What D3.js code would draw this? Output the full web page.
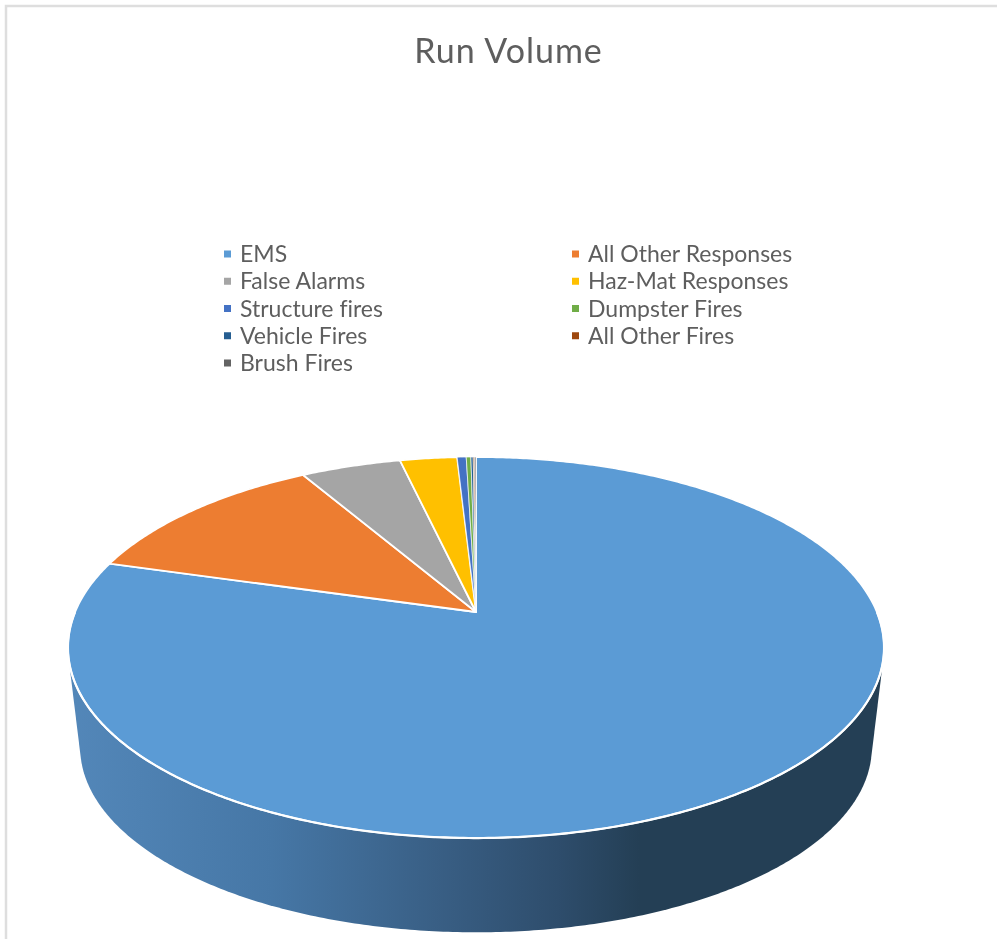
<!DOCTYPE html>
<html>
<head>
<meta charset="utf-8">
<script src="https://cdn.jsdelivr.net/npm/d3@7"></script>
<style>
    html, body { margin: 0; padding: 0; background: #fff; }
    svg { display: block; filter: blur(0.5px); }
    text { font-family: Lato, "Open Sans", sans-serif; fill: #5e5e5e; font-variant-ligatures: none; }
</style>
</head>
<body>
<svg id="chart"></svg>
<script>
const categories = ["EMS", "All Other Responses", "False Alarms", "Haz-Mat Responses", "Structure fires",
    "Dumpster Fires", "Vehicle Fires", "All Other Fires", "Brush Fires"];
const shares = [79.45, 12.2, 4.75, 2.71, 0.43, 0.22, 0.11, 0.07, 0.06];
const colors = ["#5b9bd5", "#ed7d31", "#a5a5a5", "#ffc000", "#4472c4", "#70ad47", "#255e91", "#9e480e", "#636363"];

const width = 997;
const height = 939;

const svg = d3.select("#chart").attr("width", width).attr("height", height);
const defs = svg.append("defs");

// chart frame, only top and left are visible in the crop
svg.append("path")
    .attr("d", `M6,${height}V6H${width}`)
    .attr("fill", "none")
    .attr("stroke", "#dedede")
    .attr("stroke-width", 2.5);

svg.append("text")
    .attr("x", 508.5)
    .attr("y", 62.5)
    .attr("text-anchor", "middle")
    .style("font-size", "34px")
    .style("letter-spacing", "1px")
    .text("Run Volume");

// legend, two columns filled row by row
const legendX = d3.scaleOrdinal().domain([0, 1]).range([224, 572]);
const legendY = d3.scaleLinear().domain([0, 4]).range([254, 363]);

const legend = svg.selectAll(".legend-item")
    .data(categories)
    .enter()
    .append("g")
    .attr("class", "legend-item")
    .attr("transform", (d, i) => `translate(${legendX(i % 2)}, ${legendY(Math.floor(i / 2))})`);

legend.append("rect")
    .attr("y", -3.5)
    .attr("width", 7)
    .attr("height", 7)
    .attr("fill", (d, i) => colors[i]);

legend.append("text")
    .attr("x", 16)
    .attr("y", 8)
    .style("font-size", "23px")
    .text(d => d);

// perspective of the pie top: a unit circle seen from the front
const apexX = 476;
const apexY = 612;
const tilt = 0.1864;
const scaleU = 400.9;
const scaleV = 183.9;

function project(angle) {
    const u = Math.sin(angle);
    const v = Math.cos(angle);
    const w = 1 + tilt * v;
    return [apexX + scaleU * u / w, apexY - scaleV * v / w];
}

function arcPoints(start, end) {
    const steps = Math.max(2, Math.ceil((end - start) / 0.01));
    return d3.range(steps + 1).map(i => project(start + (end - start) * i / steps));
}

const fullTurn = d3.range(0, 2 * Math.PI, 0.01);
const topRim = fullTurn.map(project);

// the bottom rim is the same circle further away and lower down
const lowerScale = 0.97;
const lowerDrop = 100;
const bottomRim = topRim.map(([x, y]) => [
    apexX + (x - apexX) * lowerScale,
    647.5 + (y - 647.5) * lowerScale + lowerDrop
]);

const wallGradient = defs.append("linearGradient")
    .attr("id", "wall")
    .attr("gradientUnits", "userSpaceOnUse")
    .attr("x1", 68).attr("x2", 884)
    .attr("y1", 0).attr("y2", 0);

wallGradient.selectAll("stop")
    .data([[0, "#5387b9"], [0.25, "#4677a6"], [0.45, "#395f85"], [0.6, "#2e4d6c"], [0.7, "#243f55"], [1, "#243f55"]])
    .enter()
    .append("stop")
    .attr("offset", d => d[0])
    .attr("stop-color", d => d[1]);

const line = d3.line();

svg.append("path")
    .attr("d", line(d3.polygonHull(topRim.concat(bottomRim))) + "Z")
    .attr("fill", "url(#wall)");

// clockwise from 12 o'clock in data order
const pie = d3.pie().sort(null).value(d => d);

svg.selectAll(".slice")
    .data(pie(shares))
    .enter()
    .append("path")
    .attr("class", "slice")
    .attr("d", d => line([[apexX, apexY], ...arcPoints(d.startAngle, d.endAngle)]) + "Z")
    .attr("fill", (d, i) => colors[i])
    .attr("stroke", "#fff")
    .attr("stroke-width", d => d.value < 1 ? 0.7 : 1.8)
    .attr("stroke-linejoin", "round");

// white edge along the front of the top face
svg.append("path")
    .attr("d", line(arcPoints(Math.PI / 2, 3 * Math.PI / 2)))
    .attr("fill", "none")
    .attr("stroke", "#fff")
    .attr("stroke-width", 2.2);
</script>
</body>
</html>
